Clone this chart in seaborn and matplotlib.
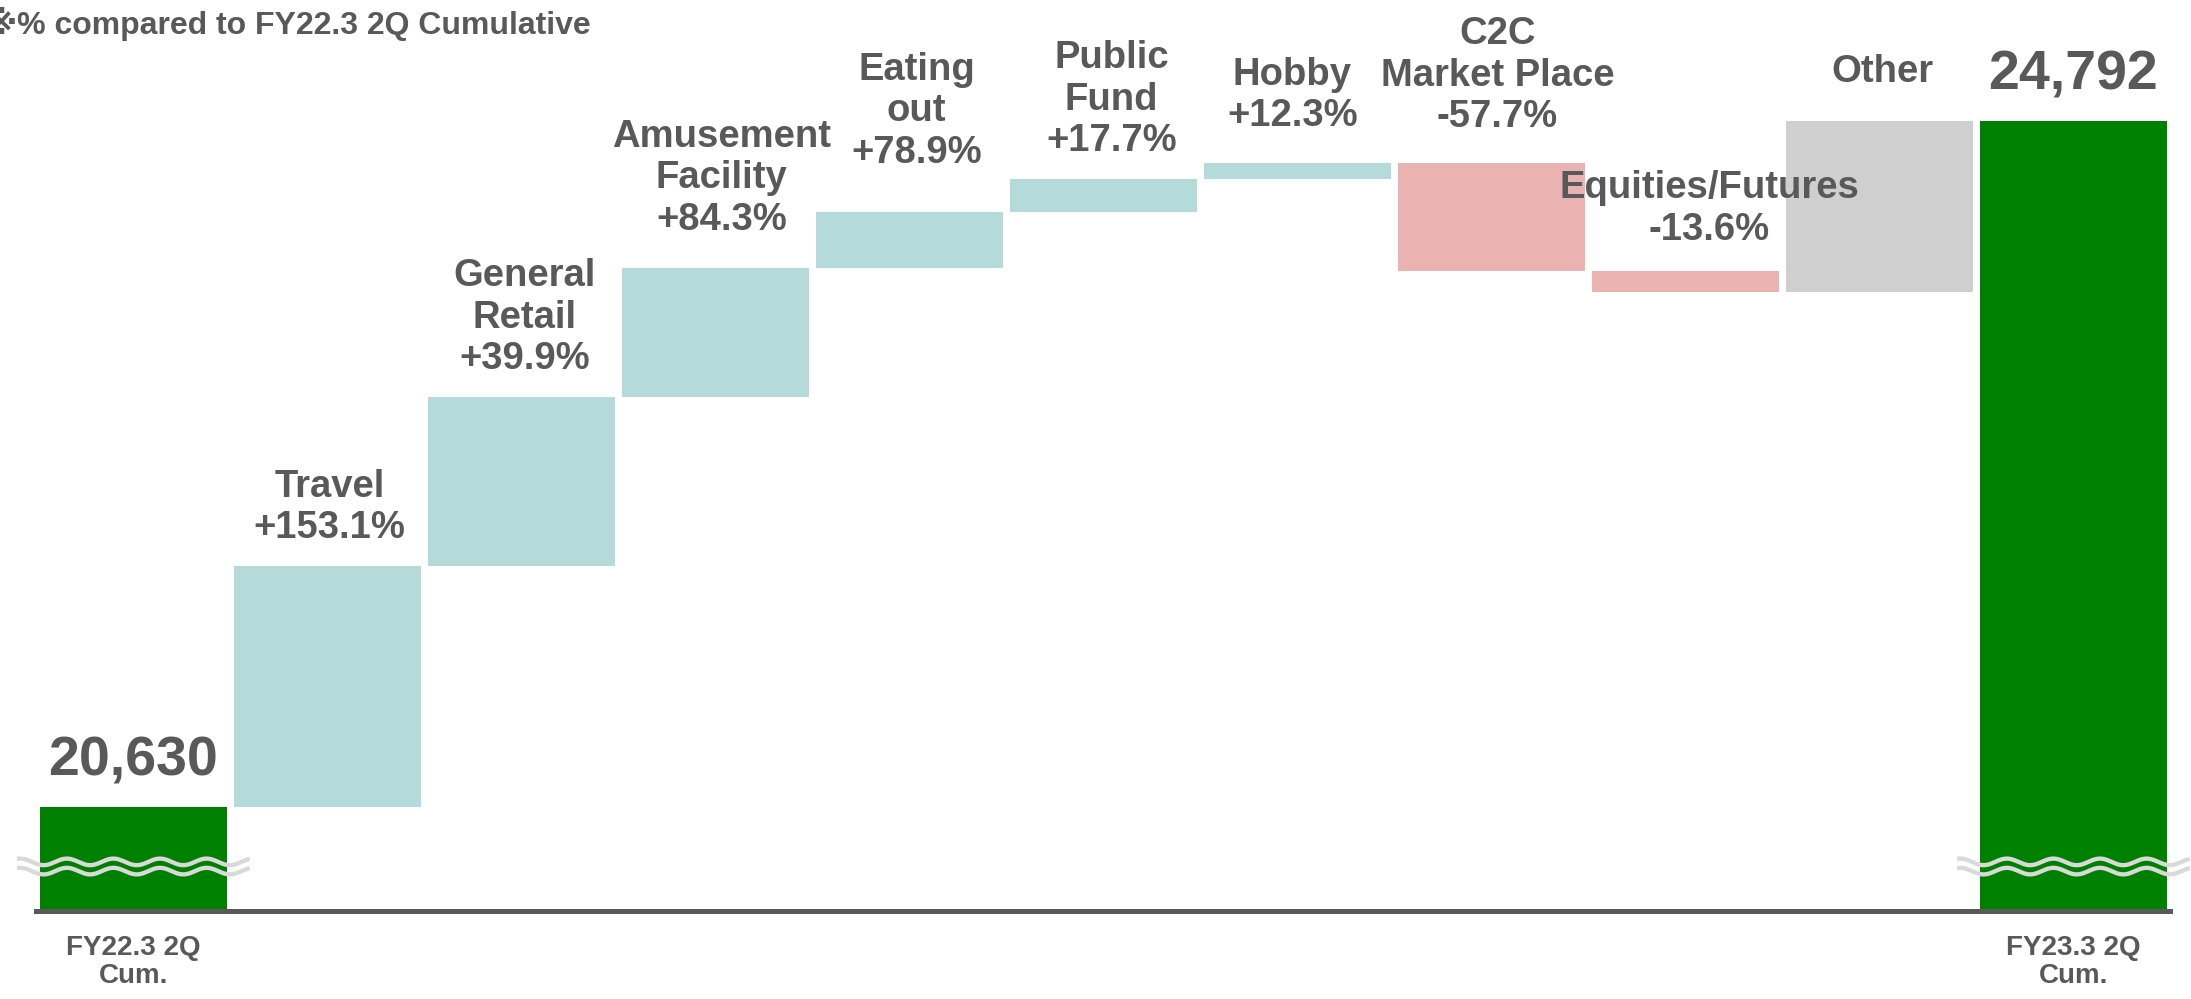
import numpy as np
import pandas as pd
import seaborn as sns
import matplotlib.pyplot as plt

# Values
start_label = "FY22.3 2Q\nCum."
end_label = "FY23.3 2Q\nCum."
start_total = 20630
end_total = 24792
segments = ["Travel", "General\nRetail", "Amusement\nFacility", "Eating\nout",
            "Public\nFund", "Hobby", "C2C\nMarket Place", "Equities/Futures", "Other"]
changes = [1462, 1025, 784, 340, 198, 97, -653, -129, 1038]
pct_labels = ["+153.1%", "+39.9%", "+84.3%", "+78.9%", "+17.7%",
              "+12.3%", "-57.7%", "-13.6%", ""]
title = "※% compared to FY22.3 2Q Cumulative"

# Style
TEXT = "#595959"
GREEN = "#008000"
UP = "#B4DADA"
DOWN = "#EAB2B1"
OTHER = "#CFCFCF"
WAVE = "#D9D9D9"
y_floor = 20000          # axis is broken, starts here
break_y = 20270          # where the break marks sit
label_pad = [20, 20, 30, 41, 20, 29, 28, 23, 31]   # px above bar top
label_dx = [2, 3, 6, 7, 8, -5, 6, 24, 3]            # px

# Waterfall table
cum = np.cumsum([start_total] + changes)
items = [start_label] + segments + [end_label]
bottoms = [0] + list(cum[:-1]) + [0]
heights = [start_total] + changes + [int(cum[-1])]
df = pd.DataFrame({"item": items, "bottom": bottoms, "height": heights})

colors = [GREEN]
for name, c in zip(segments, changes):
    if name == "Other":
        colors.append(OTHER)
    else:
        colors.append(UP if c >= 0 else DOWN)
colors.append(GREEN)

sns.set_theme(style="white")
plt.rcParams["font.family"] = ["Liberation Sans", "DejaVu Sans"]
plt.rcParams["font.weight"] = "bold"

W, H = 2191, 999
fig = plt.figure(figsize=(W / 100, H / 100), dpi=100)
ax = fig.add_axes([36.4 / W, 88 / H, 2134 / W, 911 / H])

sns.barplot(data=df, x="item", y="height", order=items, bottom=df["bottom"].values,
            width=0.96, errorbar=None, color=GREEN, saturation=1, ax=ax, zorder=2)
for patch, c in zip(ax.patches, colors):
    patch.set_facecolor(c)
    patch.set_edgecolor("none")
    patch.set_linewidth(0)

n = len(items)
ax.set_xlim(-0.5, n - 0.5)
ax.set_ylim(y_floor, y_floor + 911 * 6.067)

# percentage labels above each floating bar
for i, (name, pct) in enumerate(zip(segments, pct_labels), start=1):
    top = max(bottoms[i], bottoms[i] + heights[i])
    text = name if not pct else f"{name}\n{pct}"
    ax.annotate(text, xy=(i, top), xytext=(label_dx[i - 1], label_pad[i - 1]),
                textcoords="offset pixels", ha="center", va="bottom",
                fontsize=27.5, color=TEXT, fontweight="bold", linespacing=1.2,
                zorder=5)

# totals
for i in (0, n - 1):
    v = heights[i]
    ax.annotate(f"{v:,}", xy=(i, v), xytext=(0, 20), textcoords="offset pixels",
                ha="center", va="bottom", fontsize=40, color=TEXT, fontweight="bold")
    # axis-break wavy marks
    xs = np.linspace(i - 0.6, i + 0.6, 300)
    wave = 20 * np.cos(2 * np.pi * (xs - i - 0.137) / 0.24)
    for off in (28, -28):
        ax.plot(xs, break_y + off + wave, color=WAVE, lw=3.1, clip_on=False,
                solid_capstyle="butt", zorder=4)

ax.set_yticks([])
ax.set_xticks(range(n))
ax.set_xticklabels([lab if i in (0, n - 1) else "" for i, lab in enumerate(items)],
                   fontsize=20, color=TEXT, fontweight="bold", linespacing=1.14)
ax.tick_params(axis="x", length=0, pad=17)
ax.set_xlabel("")
ax.set_ylabel("")
sns.despine(ax=ax, left=True)
ax.spines["bottom"].set_color(TEXT)
ax.spines["bottom"].set_linewidth(3.6)
ax.spines["bottom"].set_zorder(3)

fig.text(-14 / W, 1 - 34 / H, title, fontsize=23, color=TEXT, fontweight="bold",
         ha="left", va="baseline")

fig.savefig("out.png", dpi=100)
